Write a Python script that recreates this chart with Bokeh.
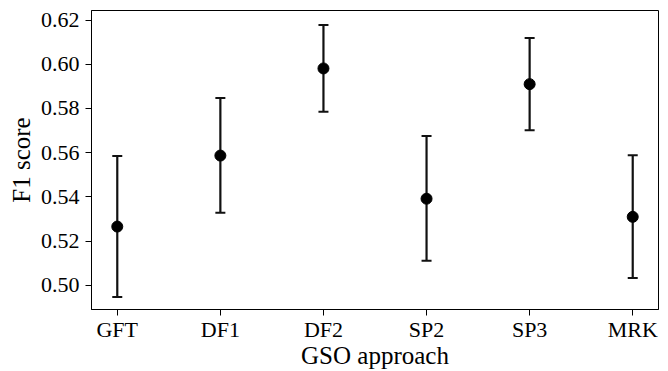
from bokeh.plotting import figure
from bokeh.models import ColumnDataSource, Range1d, FixedTicker, Whisker, TeeHead, NumeralTickFormatter
from bokeh.embed import file_html
from bokeh.resources import INLINE

categories = ["GFT", "DF1", "DF2", "SP2", "SP3", "MRK"]
f1_mean = [0.5266, 0.5587, 0.5981, 0.5392, 0.5910, 0.5310]
f1_lower = [0.4947, 0.5328, 0.5785, 0.5111, 0.5701, 0.5033]
f1_upper = [0.5585, 0.5847, 0.6177, 0.5675, 0.6119, 0.5588]
y_ticks = [0.50, 0.52, 0.54, 0.56, 0.58, 0.60, 0.62]

FONT = "Liberation Serif"

xs = list(range(len(categories)))
src = ColumnDataSource(dict(x=xs, y=f1_mean, lower=f1_lower, upper=f1_upper))

p = figure(width=668, height=371, output_backend="svg", toolbar_location=None,
           x_range=Range1d(-0.25, len(categories) - 0.75),
           y_range=Range1d(0.4891, 0.6243),
           min_border_left=91, min_border_right=10, min_border_top=10, min_border_bottom=62)

p.xgrid.visible = False
p.ygrid.visible = False
p.outline_line_color = "black"
p.outline_line_alpha = 1.0
p.outline_line_width = 1
p.background_fill_color = "white"
p.border_fill_color = "white"

ink = "#111111"
head_u = TeeHead(size=10, line_width=2, line_color=ink)
head_l = TeeHead(size=10, line_width=2, line_color=ink)
w = Whisker(source=src, base="x", upper="upper", lower="lower",
            line_width=2.2, line_color=ink, upper_head=head_u, lower_head=head_l)
p.add_layout(w)
p.scatter("x", "y", source=src, size=11, fill_color="black", line_color="black")

p.xaxis.ticker = FixedTicker(ticks=xs)
p.xaxis.major_label_overrides = {i: c for i, c in enumerate(categories)}
p.yaxis.ticker = FixedTicker(ticks=y_ticks)
p.yaxis.formatter = NumeralTickFormatter(format="0.00")

for ax in (p.xaxis[0], p.yaxis[0]):
    ax.axis_line_color = "black"
    ax.major_tick_line_color = "black"
    ax.major_tick_in = 0
    ax.major_tick_out = 6
    ax.minor_tick_line_color = None
    ax.major_label_text_font = FONT
    ax.major_label_text_font_size = "22px"
    ax.major_label_text_color = "black"
    ax.axis_label_text_font = FONT
    ax.axis_label_text_font_size = "25px"
    ax.axis_label_text_font_style = "normal"
    ax.axis_label_text_color = "black"

p.xaxis.axis_label = "GSO approach"
p.yaxis.axis_label = "F1 score"
p.xaxis.major_label_standoff = 1
p.xaxis.axis_label_standoff = -3
p.yaxis.major_label_standoff = 6
p.yaxis.axis_label_standoff = 3

open("out.html", "w").write(file_html(p, INLINE))
